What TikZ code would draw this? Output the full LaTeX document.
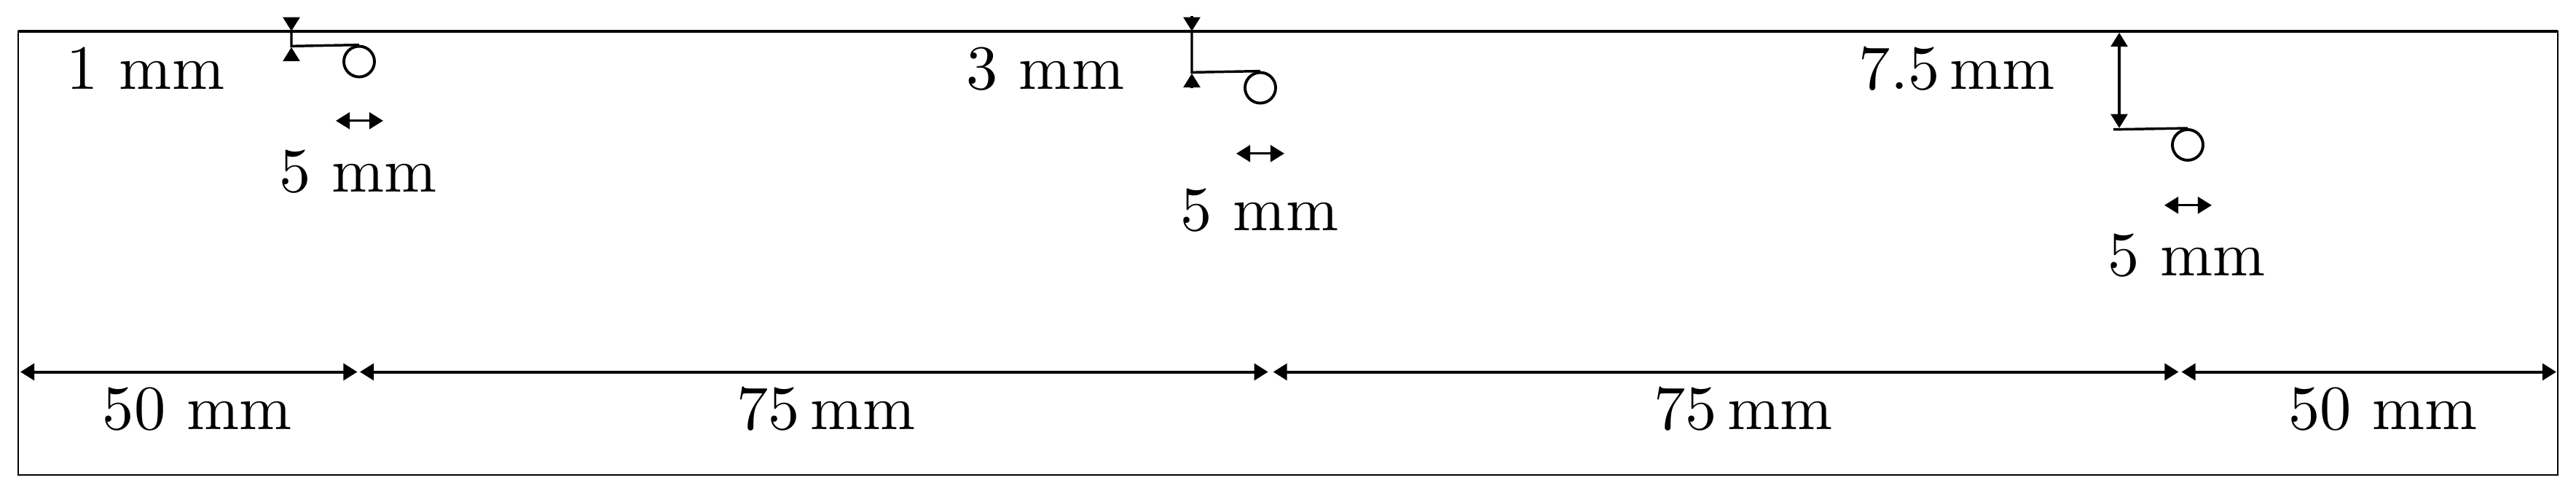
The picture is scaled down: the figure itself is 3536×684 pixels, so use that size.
\documentclass[tikz,border=0pt]{standalone}
\usetikzlibrary{arrows.meta}
\begin{document}
\begin{tikzpicture}[x=0.1156pt, y=-0.1156pt,
  >={Triangle[length=2.2pt,width=2.62pt]},
  frame/.style={line width=0.231pt},
  topedge/.style={line width=0.5pt},
  dimline/.style={line width=0.462pt},
  lead/.style={line width=0.4pt},
  ring/.style={circle, draw, line width=0.45pt, minimum size=4.86pt, inner sep=0pt},
  lbl/.style={anchor=base, inner sep=0pt}]
\useasboundingbox (0,0) rectangle (3536,684);
% frame
\coordinate (TL) at (25,42.7);
\coordinate (TR) at (3511,42.7);
\coordinate (BR) at (3511,652.3);
\draw[frame] (TL) rectangle (BR);
\draw[topedge] (TL) -- (TR);

% ---- feature 1 (1 mm)
\coordinate (a1) at (400,23.7);
\coordinate (e1) at (400,42.7);
\coordinate (h1) at (400,63.3);
\coordinate (u1) at (400,84);
\coordinate (v1) at (400,64.8);
\node[ring] (c1) at (493,84.5) {};
\draw[lead] (e1) -- (h1) -- (c1.north);
\draw[lead,->] (a1) -- (e1);
\draw[lead,->] (u1) -- (v1);
\coordinate (p1) at (461,165.7);
\coordinate (q1) at (526,165.7);
\draw[lead,<->] (p1) -- (q1);
\node[lbl] (t1) at (200,122.7) {1 mm};
\node[lbl] (d1) at (491.5,263.3) {5 mm};

% ---- feature 2 (3 mm)
\coordinate (a2) at (1636,21.7);
\coordinate (e2) at (1636,42.7);
\coordinate (h2) at (1636,99.3);
\coordinate (u2) at (1636,120.5);
\coordinate (v2) at (1636,100.8);
\node[ring] (c2) at (1730,120.5) {};
\draw[lead] (e2) -- (h2) -- (c2.north);
\draw[lead,->] (a2) -- (e2);
\draw[lead,->] (u2) -- (v2);
\coordinate (p2) at (1697,210.7);
\coordinate (q2) at (1763,210.7);
\draw[lead,<->] (p2) -- (q2);
\node[lbl] (t2) at (1435,122.7) {3 mm};
\node[lbl] (d2) at (1729,316.7) {5 mm};

% ---- feature 3 (7.5 mm)
\coordinate (e3) at (2909,44.8);
\coordinate (h3) at (2909,175.7);
\coordinate (s3) at (2901,177.7);
\node[ring] (c3) at (3003,198.9) {};
\draw[lead] (s3) -- (c3.north);
\draw[lead,<->] (e3) -- (h3);
\coordinate (p3) at (2971,281.7);
\coordinate (q3) at (3036,281.7);
\draw[lead,<->] (p3) -- (q3);
\node[lbl] (t3) at (2686.5,122.7) {7.5\,mm};
\node[lbl] (d3) at (3001.5,378.3) {5 mm};

% ---- bottom dimension chain
\coordinate (m0) at (28,510.5);
\coordinate (m1l) at (490.5,510.5);
\coordinate (m1r) at (494,510.5);
\coordinate (m2l) at (1740.7,510.5);
\coordinate (m2r) at (1747.7,510.5);
\coordinate (m3l) at (2990.5,510.5);
\coordinate (m3r) at (2994.5,510.5);
\coordinate (m4) at (3509,510.5);
\draw[dimline,<->] (m0) -- (m1l);
\draw[dimline,<->] (m1r) -- (m2l);
\draw[dimline,<->] (m2r) -- (m3l);
\draw[dimline,<->] (m3r) -- (m4);
\node[lbl] (b1) at (270.5,589.3) {50 mm};
\node[lbl] (b2) at (1134,589.3) {75\,mm};
\node[lbl] (b3) at (2393,589.3) {75\,mm};
\node[lbl] (b4) at (3271,589.3) {50 mm};
\end{tikzpicture}
\end{document}
